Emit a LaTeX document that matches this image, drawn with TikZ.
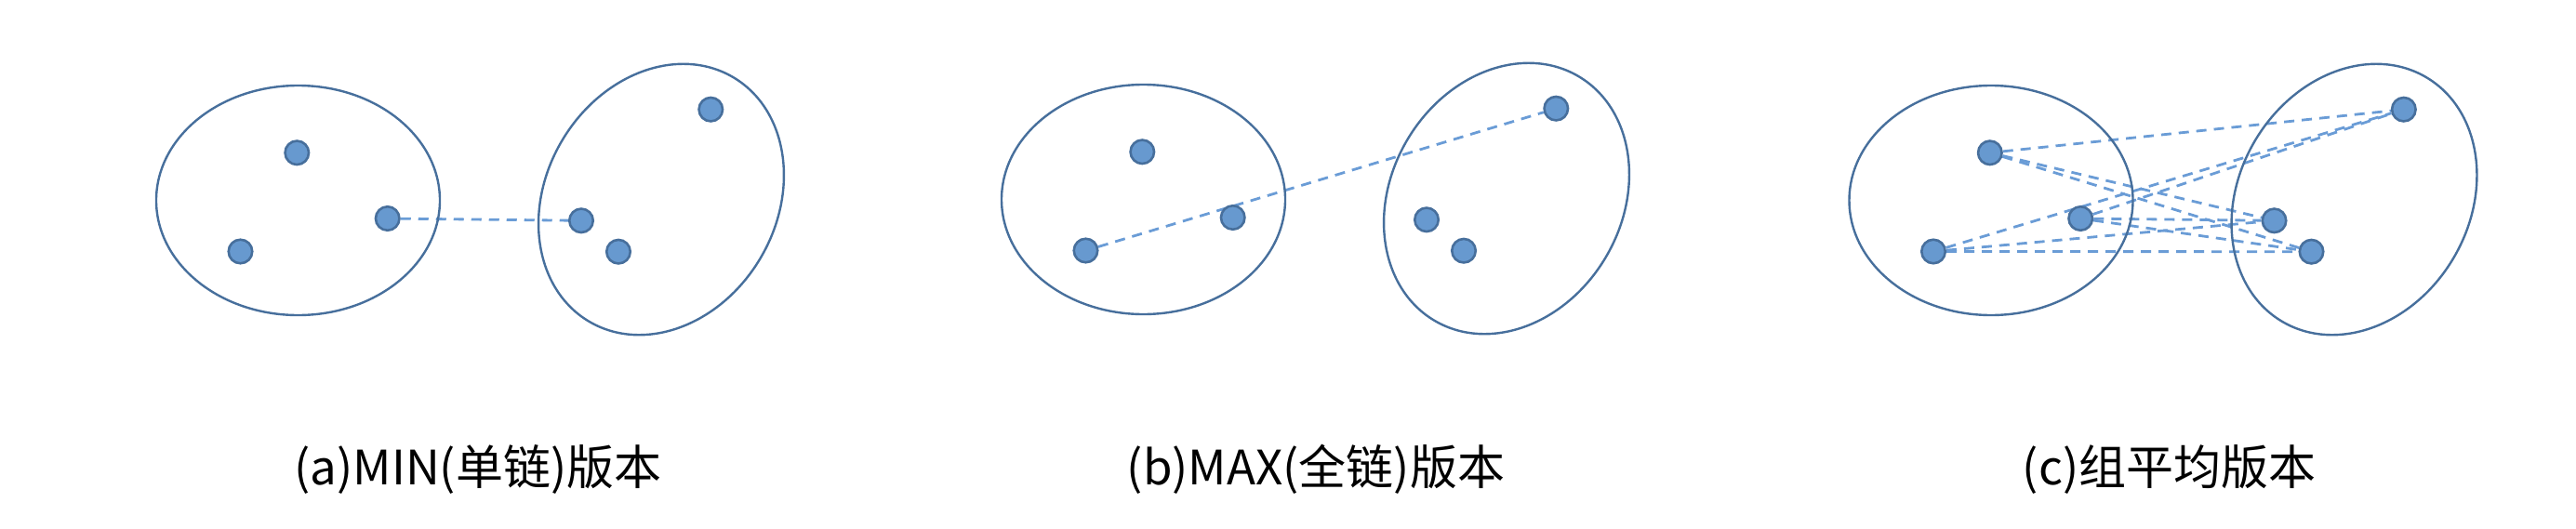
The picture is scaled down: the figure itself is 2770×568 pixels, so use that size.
\documentclass[tikz,border=0pt]{standalone}
\usepackage{fontspec}
\setmainfont{Noto Sans CJK SC}
\pgfdeclarelayer{background}
\pgfsetlayers{background,main}
\definecolor{clusterline}{RGB}{71,111,156}
\definecolor{dotfill}{RGB}{103,153,207}
\definecolor{linkcol}{RGB}{106,156,214}
\tikzset{
  cluster/.style={draw=clusterline, line width=2.4pt},
  dot/.style={circle, draw=clusterline, fill=dotfill, line width=2.6pt, minimum size=25.5pt, inner sep=0pt},
  link/.style={draw=linkcol, line width=2.8pt, dash pattern=on 11pt off 8pt},
  caption/.style={font=\fontsize{51}{60}\selectfont, anchor=base, inner sep=0pt}
}
\begin{document}
\begin{tikzpicture}[x=1pt,y=-1pt]
\useasboundingbox (0,0) rectangle (2770,568);
% ---------- panel a ----------
\begin{scope}[shift={(0,0)}]
  \draw[cluster] (320.5,215.5) ellipse [x radius=152.5pt, y radius=123.5pt];
  \draw[cluster, rotate around={59.5:(711,214.5)}] (711,214.5) ellipse [x radius=152.5pt, y radius=124pt];
  \node[dot] (aL1) at (319.3,164.3) {};
  \node[dot] (aL2) at (258.5,270.5) {};
  \node[dot] (aL3) at (416.7,235) {};
  \node[dot] (aR1) at (764.3,117.7) {};
  \node[dot] (aR2) at (625,237.3) {};
  \node[dot] (aR3) at (665,270.7) {};
\end{scope}
\begin{pgfonlayer}{background}
  \draw[link] (aL3) -- (aR2);
\end{pgfonlayer}
\node[caption] (capA) at (514,521) {(a)MIN(单链)版本};
% ---------- panel b ----------
\begin{scope}[shift={(909,-1)}]
  \draw[cluster] (320.5,215.5) ellipse [x radius=152.5pt, y radius=123.5pt];
  \draw[cluster, rotate around={59.5:(711,214.5)}] (711,214.5) ellipse [x radius=152.5pt, y radius=124pt];
  \node[dot] (bL1) at (319.3,164.3) {};
  \node[dot] (bL2) at (258.5,270.5) {};
  \node[dot] (bL3) at (416.7,235) {};
  \node[dot] (bR1) at (764.3,117.7) {};
  \node[dot] (bR2) at (625,237.3) {};
  \node[dot] (bR3) at (665,270.7) {};
\end{scope}
\begin{pgfonlayer}{background}
  \draw[link] (bL2) -- (bR1);
\end{pgfonlayer}
\node[caption] (capB) at (1415,521) {(b)MAX(全链)版本};
% ---------- panel c ----------
\begin{scope}[shift={(1820.5,0)}]
  \draw[cluster] (320.5,215.5) ellipse [x radius=152.5pt, y radius=123.5pt];
  \draw[cluster, rotate around={59.5:(711,214.5)}] (711,214.5) ellipse [x radius=152.5pt, y radius=124pt];
  \node[dot] (cL1) at (319.3,164.3) {};
  \node[dot] (cL2) at (258.5,270.5) {};
  \node[dot] (cL3) at (416.7,235) {};
  \node[dot] (cR1) at (764.3,117.7) {};
  \node[dot] (cR2) at (625,237.3) {};
  \node[dot] (cR3) at (665,270.7) {};
\end{scope}
\begin{pgfonlayer}{background}
  \foreach \l in {cL1,cL2,cL3}{
    \foreach \r in {cR1,cR2,cR3}{
      \draw[link] (\l) -- (\r);
    }
  }
\end{pgfonlayer}
\node[caption] (capC) at (2332.5,521) {(c)组平均版本};
\end{tikzpicture}
\end{document}
